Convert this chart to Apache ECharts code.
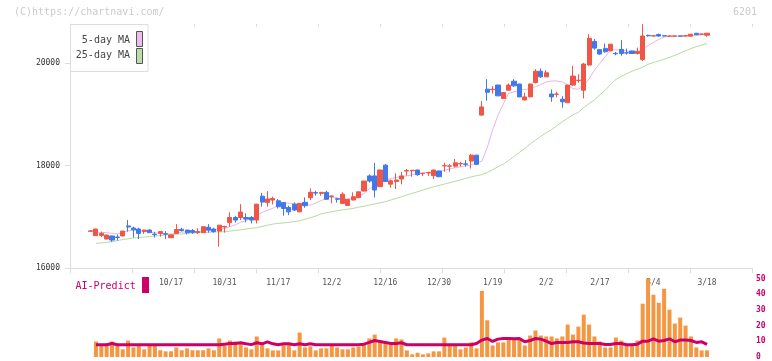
<!DOCTYPE html>
<html><head><meta charset="utf-8">
<script src="https://cdn.jsdelivr.net/npm/echarts@6/dist/echarts.min.js"></script>
<style>html,body{margin:0;padding:0;background:#fff}#c{width:772px;height:361px}</style>
</head><body><div id="c"></div>
<script>
const categories = ['9/25','9/26','9/29','9/30','10/1','10/2','10/3','10/6','10/7','10/8','10/9','10/10','10/14','10/15','10/16','10/17','10/20','10/21','10/22','10/23','10/24','10/27','10/28','10/29','10/30','10/31','11/4','11/5','11/6','11/7','11/10','11/11','11/12','11/13','11/14','11/17','11/18','11/19','11/20','11/21','11/25','11/26','11/27','11/28','12/1','12/2','12/3','12/4','12/5','12/8','12/9','12/10','12/11','12/12','12/15','12/16','12/17','12/18','12/19','12/22','12/23','12/24','12/25','12/26','12/29','12/30','1/5','1/6','1/7','1/8','1/9','1/13','1/14','1/15','1/16','1/19','1/20','1/21','1/22','1/23','1/26','1/27','1/28','1/29','1/30','2/2','2/3','2/4','2/5','2/6','2/9','2/10','2/12','2/13','2/16','2/17','2/18','2/19','2/20','2/24','2/25','2/26','2/27','3/2','3/3','3/4','3/5','3/6','3/9','3/10','3/11','3/12','3/13','3/16','3/17','3/18'];
const tickLabels = ['10/17','10/31','11/17','12/2','12/16','12/30','1/19','2/2','2/17','3/4','3/18'];
const priceTicks = [16000, 18000, 20000];
const volumeTicks = [0, 10, 20, 30, 40, 50];

const openP = [16720,16635,16640,16570,16630,16610,16630,16825,16785,16765,
16715,16745,16665,16680,16675,16595,16680,16760,16745,16735,
16695,16695,16800,16765,16725,16805,16890,16990,16990,16990,
16990,16940,17405,17280,17330,17315,17280,17185,17250,17100,
17285,17375,17475,17460,17480,17400,17355,17265,17225,17330,
17375,17505,17800,17800,17590,18010,17640,17690,17740,17895,
17900,17915,17845,17860,17805,17895,17995,17990,17990,18035,
18035,18090,18205,18985,19490,19480,19570,19310,19470,19645,
19590,19280,19340,19620,19840,19730,19395,19390,19295,19225,
19570,19660,19470,19960,20420,20260,20285,20237,20190,20265,
20200,20235,20185,20070,20540,20525,20555,20532,20520,20522,
20527,20525,20523,20580,20560,20542];
const closeP = [16730,16765,16680,16648,16550,16600,16725,16805,16750,16680,
16745,16695,16655,16715,16665,16650,16755,16735,16695,16700,
16715,16810,16745,16715,16840,16815,16990,16940,17095,16960,
16940,17250,17290,17350,17360,17200,17165,17100,17135,17265,
17220,17480,17465,17480,17345,17410,17345,17445,17345,17395,
17490,17700,17700,17525,17915,17690,17705,17720,17800,17905,
17910,17825,17850,17865,17915,17785,18000,17995,18055,18040,
18025,18205,18025,19145,19430,19490,19360,19425,19570,19555,
19340,19340,19590,19840,19730,19810,19340,19395,19245,19570,
19745,19665,19980,20480,20290,20175,20220,20367,20180,20185,
20195,20185,20230,20525,20530,20530,20525,20527,20525,20527,
20522,20530,20562,20550,20565,20581];
const lowP = [16715,16630,16605,16565,16515,16540,16625,16715,16600,16570,
16670,16690,16600,16615,16570,16590,16680,16715,16660,16670,
16670,16690,16695,16695,16420,16695,16810,16890,16940,16895,
16875,16875,17200,17200,17245,17165,17025,17035,17115,17095,
17180,17330,17415,17415,17330,17265,17280,17260,17220,17325,
17370,17500,17670,17380,17585,17685,17570,17545,17635,17805,
17785,17800,17800,17800,17740,17780,17880,17880,17965,17980,
17980,17945,18020,18970,19265,19405,19355,19300,19460,19535,
19335,19275,19335,19600,19710,19730,19245,19330,19130,19220,
19555,19615,19310,19950,20260,20160,20200,20230,20150,20140,
20165,20180,20165,20040,20515,20520,20510,20520,20515,20520,
20518,20522,20520,20545,20555,20510];
const highP = [16735,16770,16715,16655,16635,16660,16730,16940,16810,16790,
16750,16765,16710,16720,16725,16655,16860,16790,16750,16765,
16780,16815,16860,16790,16845,16830,17090,17020,17250,17070,
17020,17255,17470,17505,17395,17350,17285,17220,17285,17270,
17380,17555,17510,17485,17510,17420,17375,17480,17350,17480,
17495,17705,17830,18055,17920,18030,17730,17850,17875,17935,
17915,17920,17855,17880,17920,17900,18055,18030,18130,18075,
18110,18225,18210,19255,19685,19550,19575,19430,19600,19685,
19595,19420,19595,19880,19895,19860,19485,19440,19355,19575,
19945,19780,20005,20560,20470,20270,20380,20370,20215,20445,
20280,20240,20300,20757,20550,20535,20575,20535,20540,20530,
20530,20550,20565,20585,20570,20583];

const ma5 = [null,16700,16700,16695,16680,16670,16700,16730,16745,16735,16720,
16705,16690,16680,16672,16668,16690,16705,16710,16713,16718,
16726,16740,16750,16758,16780,16810,16850,16895,16930,16975,
17030,17090,17130,17170,17230,17275,17270,17255,17245,17235,
17232,17270,17320,17362,17385,17370,17345,17345,17360,17400,
17460,17550,17600,17660,17710,17750,17770,17790,17800,17820,
17845,17860,17870,17880,17890,17910,17935,17960,17975,17995,
18010,18050,18090,18350,18700,18980,19200,19410,19440,19470,
19485,19500,19540,19580,19630,19650,19650,19630,19570,19500,
19490,19560,19690,19860,19990,20120,20250,20260,20250,20235,
20210,20205,20270,20340,20400,20460,20505,20525,20530,20530,
20530,20535,20540,20550,20560];
const ma25 = [null,16486,16495,16505,16518,16540,16560,16575,16590,16600,16610,
16618,16630,16640,16650,16658,16663,16670,16678,16686,16694,
16698,16702,16706,16710,16713,16725,16738,16750,16765,16778,
16791,16815,16840,16862,16875,16885,16895,16910,16927,16955,
16985,17018,17060,17085,17100,17122,17138,17152,17168,17190,
17210,17232,17255,17275,17297,17330,17362,17395,17430,17460,
17492,17525,17557,17589,17615,17640,17667,17695,17723,17752,
17780,17805,17825,17870,17920,17979,18030,18100,18180,18260,
18336,18420,18498,18570,18640,18700,18780,18855,18920,18990,
19040,19130,19212,19280,19380,19470,19580,19680,19740,19790,
19840,19880,19920,19975,20010,20040,20075,20110,20150,20195,
20240,20280,20320,20350,20380];

const volume = [null,9.9,7.6,7.6,9.9,7.4,4.9,10.5,6.1,7.4,4.9,
7.4,7.4,4.3,3.6,3.6,6.1,4.3,5.5,4.3,4.3,
4.3,5.5,4.3,11.8,7.2,10.5,9.9,8.2,6.1,4.9,
13.1,8.2,5.5,4.2,4.2,7.8,7.8,4.2,15.6,6.1,
6.8,4.2,5.5,5.5,7.2,6.1,4.9,4.9,6.1,6.5,
7.6,11.8,14.3,10.5,8.9,7.8,11.8,11.2,4.2,1.7,
2.7,1.7,2.3,3.6,3.6,12.4,7.8,7.8,4.9,6.1,
9.3,5.5,42.2,23.4,7.4,9.3,9.3,12.4,11.8,11.8,
7.4,13.7,16.9,13.7,13.1,13.1,11.8,13.1,20.7,14.3,
19.4,27,20.7,13.1,9.9,6.1,6.1,12.4,10.5,7.4,
8,10.5,34,50.4,39.7,34.6,43.5,30.2,21.3,25.1,
20,13.1,6.1,4.2,4.2];
const aiPredict = [null,7.8,7.8,7.8,8.6,7.8,7.8,7.8,7.8,7.8,7.8,
7.8,7.8,7.8,7.8,7.8,7.8,7.8,7.8,7.8,7.8,
7.8,7.8,7.8,7.8,8.2,8.6,8.6,9.1,8.4,7.9,
9.1,8.4,9.7,8.4,7.8,8.4,8.4,7.8,8.4,7.8,
8.4,7.8,7.8,7.8,7.8,7.8,7.8,7.8,7.8,7.8,
8.2,9.3,10.5,9.9,9.3,8.6,8.6,9.1,7.8,7.8,
7.8,7.8,7.8,7.8,7.8,7.8,7.8,7.8,7.8,7.8,
7.8,8.6,10.8,11.8,9.9,11.4,11.8,11.8,11.6,11.8,
9.7,10.5,11.8,11.4,10.1,8.6,9.3,9.3,9.3,9.7,
9.7,8.9,8.6,8.6,8.6,8.0,8.0,8.6,8.6,7.8,
7.8,8.2,10.1,10.1,11.6,10.1,10.5,11.6,9.7,10.8,
10.8,10.5,9.3,9.7,8.0];

const UP = '#f05546', DOWN = '#4178eb', CRIMSON = '#cc0066', ORANGE = '#f59641';
const MONO = 'DejaVu Sans Mono';
const candles = categories.map((c, i) => [openP[i], closeP[i], lowP[i], highP[i]]);
const yMin = 16000, yMax = 20760;

const chart = echarts.init(document.getElementById('c'), null, {renderer: 'canvas'});
chart.setOption({
  animation: false,
  backgroundColor: '#fff',
  grid: [
    {left: 70, top: 24, width: 682, height: 244.3},
    {left: 87.9, top: 24, width: 621.8, height: 244.3},
    {left: 87.9, top: 278.6, width: 621.8, height: 80.1}
  ],
  xAxis: [
    {gridIndex: 0, type: 'value', min: 0, max: 11, interval: 1,
     axisLine: {show: true, lineStyle: {color: '#dddddd', width: 1}},
     axisTick: {show: true, length: 5, lineStyle: {color: '#dddddd'}},
     axisLabel: {show: false}, splitLine: {show: false}},
    {gridIndex: 0, type: 'value', min: 0, max: 11, interval: 1,
     axisLine: {show: false},
     axisTick: {show: true, inside: true, length: 3, lineStyle: {color: '#dddddd'}},
     axisLabel: {show: false}, splitLine: {show: false}},
    {gridIndex: 1, type: 'category', data: categories, boundaryGap: true,
     axisLine: {show: false}, axisTick: {show: false}, splitLine: {show: false},
     axisLabel: {interval: (i, v) => tickLabels.includes(v), margin: 11,
       fontSize: 8, fontFamily: MONO, color: '#555'}},
    {gridIndex: 2, type: 'category', data: categories, boundaryGap: true, show: false}
  ],
  yAxis: [
    {gridIndex: 0, type: 'value', min: yMin, max: yMax, interval: 2000,
     axisLine: {show: true, lineStyle: {color: '#dddddd'}},
     axisTick: {show: true, length: 5, customValues: priceTicks, lineStyle: {color: '#dddddd'}},
     axisLabel: {customValues: priceTicks, formatter: v => String(v), margin: 10, fontSize: 8, fontFamily: MONO, color: '#333'},
     splitLine: {show: false}},
    {gridIndex: 0, type: 'value', min: yMin, max: yMax, interval: 2000,
     axisLine: {show: false},
     axisTick: {show: true, inside: true, length: 4, customValues: priceTicks, lineStyle: {color: '#dddddd'}},
     axisLabel: {show: false}, splitLine: {show: false}},
    {gridIndex: 1, type: 'value', min: yMin, max: yMax, show: false},
    {gridIndex: 2, type: 'value', min: 0, max: 50, interval: 10, position: 'right', offset: 42.3,
     axisLine: {show: false}, axisTick: {show: false}, splitLine: {show: false},
     axisLabel: {customValues: volumeTicks, margin: 4, fontSize: 8, fontFamily: MONO, color: CRIMSON, fontWeight: 'bold'}}
  ],
  series: [
    {type: 'line', name: '25-day MA', xAxisIndex: 2, yAxisIndex: 2, data: ma25, showSymbol: false,
     lineStyle: {color: '#b4dca0', width: 1}, z: 1},
    {type: 'line', name: '5-day MA', xAxisIndex: 2, yAxisIndex: 2, data: ma5, showSymbol: false,
     lineStyle: {color: '#e8b4e8', width: 1}, z: 1},
    {type: 'candlestick', name: 'price', xAxisIndex: 2, yAxisIndex: 2, data: candles, barWidth: 4.6,
     itemStyle: {color: UP, color0: DOWN, borderColor: UP, borderColor0: DOWN, borderColorDoji: UP, borderWidth: 1}, z: 3},
    {type: 'bar', name: 'volume', xAxisIndex: 3, yAxisIndex: 3, data: volume, barWidth: 4,
     itemStyle: {color: ORANGE}, z: 2},
    {type: 'line', name: 'AI-Predict', xAxisIndex: 3, yAxisIndex: 3, data: aiPredict, showSymbol: false,
     lineStyle: {color: CRIMSON, width: 3}, z: 4}
  ],
  graphic: [
    {type: 'text', left: 14, top: 7, style: {text: '(C)https://chartnavi.com/', fill: '#cccccc', font: '10px ' + MONO}},
    {type: 'text', right: 15, top: 7, style: {text: '6201', fill: '#cccccc', font: '10px ' + MONO}},
    {type: 'rect', shape: {x: 70.5, y: 24.5, width: 77.5, height: 47}, style: {fill: '#fff', stroke: '#dddddd', lineWidth: 1}, z: 10},
    {type: 'text', x: 130, y: 40, style: {text: '5-day MA', fill: '#444', font: '10px ' + MONO, align: 'right', verticalAlign: 'middle'}, z: 11},
    {type: 'text', x: 130, y: 55.5, style: {text: '25-day MA', fill: '#444', font: '10px ' + MONO, align: 'right', verticalAlign: 'middle'}, z: 11},
    {type: 'rect', shape: {x: 136.5, y: 31.5, width: 6, height: 15}, style: {fill: '#eebbee', stroke: '#555', lineWidth: 1}, z: 11},
    {type: 'rect', shape: {x: 136.5, y: 48.5, width: 6, height: 15}, style: {fill: '#bbddaa', stroke: '#555', lineWidth: 1}, z: 11},
    {type: 'text', x: 75.5, y: 286, style: {text: 'AI-Predict', fill: CRIMSON, font: '10px ' + MONO, verticalAlign: 'middle'}, z: 11},
    {type: 'rect', shape: {x: 142, y: 277, width: 7, height: 16}, style: {fill: CRIMSON}, z: 11}
  ]
});
</script>
</body></html>
